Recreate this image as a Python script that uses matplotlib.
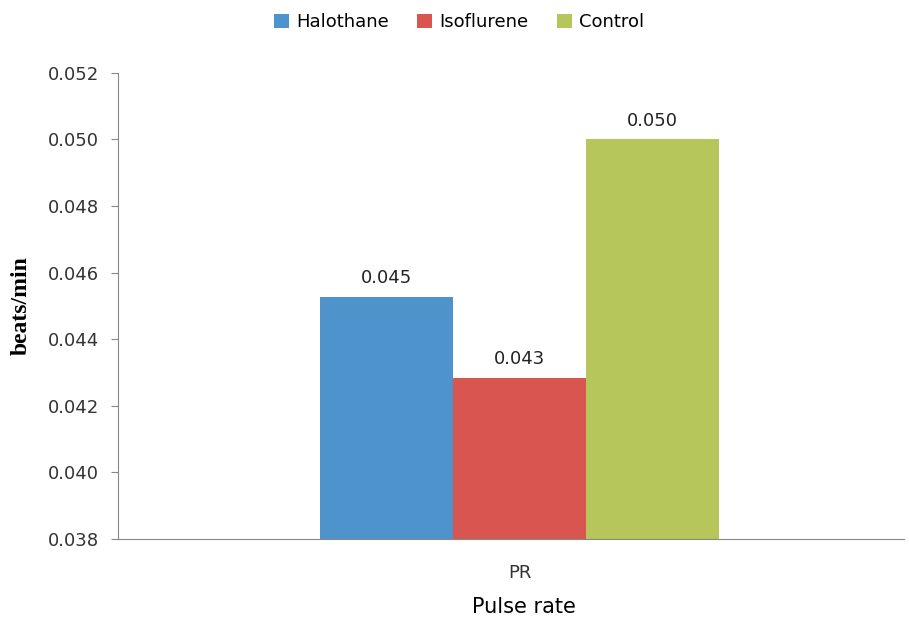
import matplotlib
matplotlib.use("Agg")
import matplotlib.pyplot as plt

# data
groups = ["Halothane", "Isoflurene", "Control"]
values = [0.04527, 0.04284, 0.0500]
labels = ["0.045", "0.043", "0.050"]
colors = ["#4E93CB", "#D95650", "#B6C65B"]
category = "PR"
yticks = [0.038, 0.040, 0.042, 0.044, 0.046, 0.048, 0.050, 0.052]

fig = plt.figure(figsize=(9.09, 6.18), dpi=100)
ax = fig.add_axes([0.130, 0.128, 0.865, 0.754])

w = 0.169
c0 = 0.0105
offsets = [c0 - w, c0, c0 + w]
for g, v, lab, c, off in zip(groups, values, labels, colors, offsets):
    ax.bar(off, v - 0.038, bottom=0.038, width=w, color=c, label=g)
    ax.text(off, v + 0.0003, lab, ha="center", va="bottom", fontsize=13, color="#222222")

ax.set_xlim(-0.5, 0.5)
ax.set_ylim(0.038, 0.052)
ax.set_yticks(yticks)
ax.set_yticklabels([f"{t:.3f}" for t in yticks], fontsize=13, color="#333333")
ax.set_xticks([c0])
ax.set_xticklabels([category], fontsize=13, color="#333333")
ax.tick_params(axis="x", length=0, pad=18)
ax.tick_params(axis="y", length=5, color="#888888", pad=9)

for s in ["top", "right"]:
    ax.spines[s].set_visible(False)
ax.spines["left"].set_color("#888888")
ax.spines["bottom"].set_color("#888888")

ax.set_ylabel("beats/min", fontsize=17, fontweight="bold", family="Liberation Serif")
ax.yaxis.set_label_coords(-0.110, 0.5)
ax.set_xlabel("Pulse rate", fontsize=15)
ax.xaxis.set_label_coords(0.516, -0.125)

fig.legend(loc="upper center", bbox_to_anchor=(0.505, 1.005), ncol=3, frameon=False,
           fontsize=13, handlelength=0.8, handleheight=0.8, columnspacing=1.6, handletextpad=0.4)

fig.savefig("out.png", dpi=100)
